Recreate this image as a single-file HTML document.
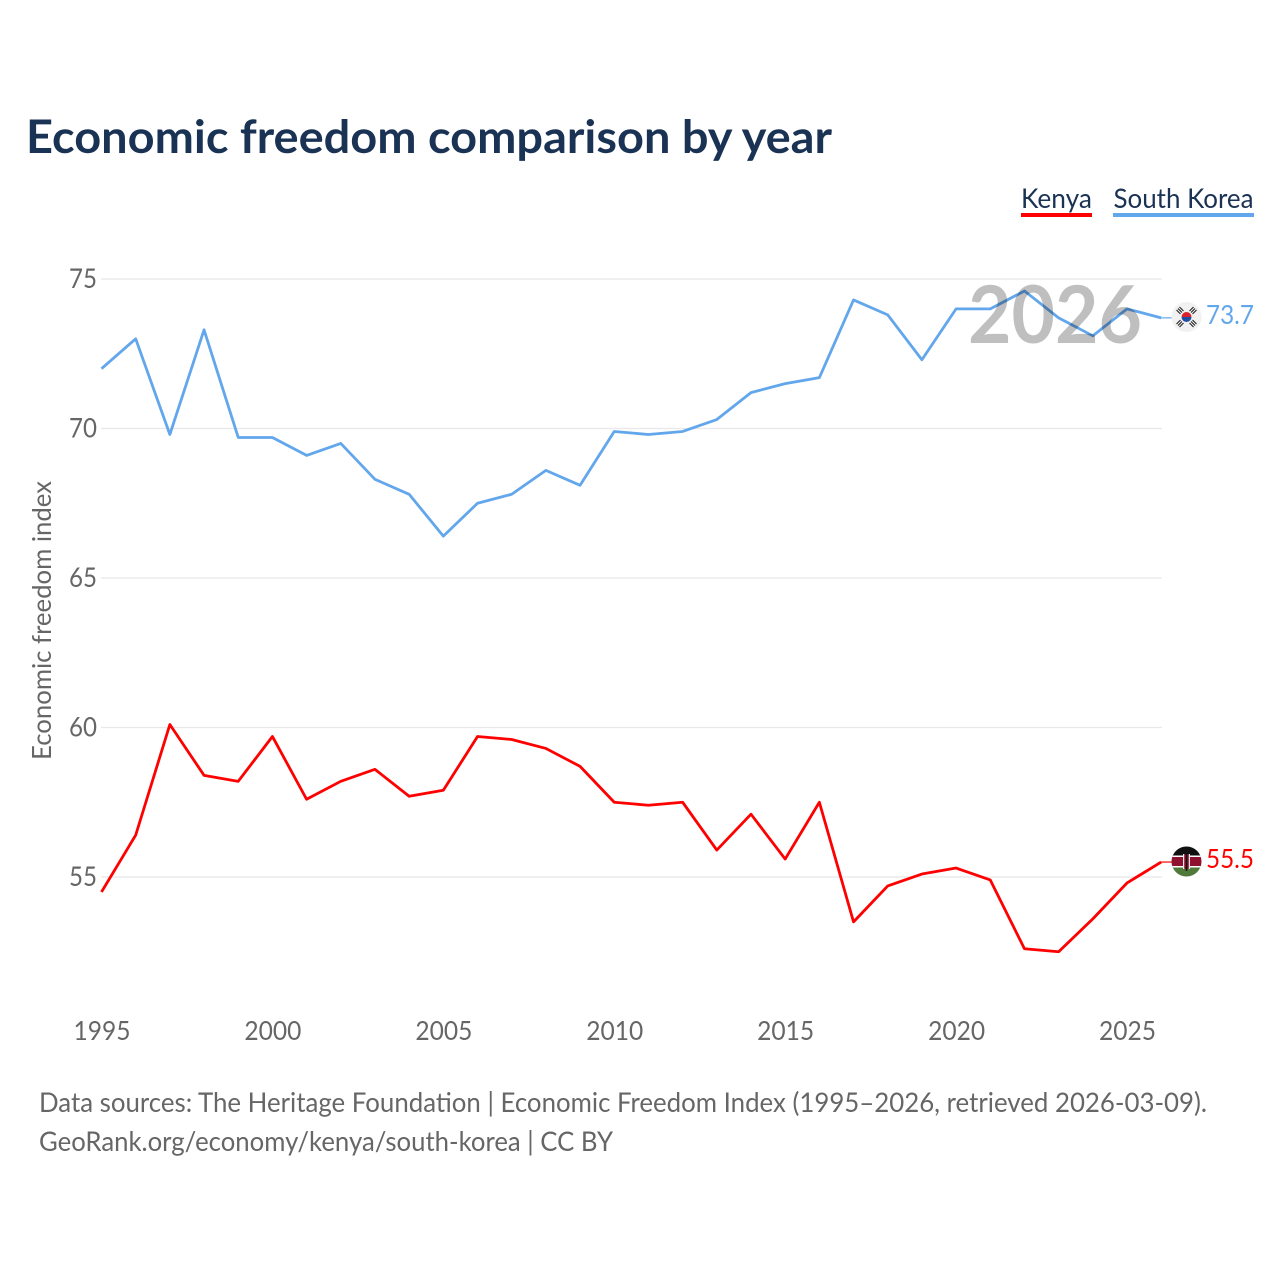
<!DOCTYPE html>
<html lang="en">
<head>
<meta charset="utf-8">
<title>Economic freedom comparison by year</title>
<style>
html,body{margin:0;padding:0;background:#fff;width:1280px;height:1280px;overflow:hidden}
svg{display:block}
text{font-family:"Lato","Carlito","Liberation Sans",sans-serif}
</style>
</head>
<body>
<svg id="chart" width="1280" height="1280" viewBox="0 0 1280 1280" xmlns="http://www.w3.org/2000/svg">
  <text x="26" y="153" font-size="46" font-weight="700" fill="#1a3354" textLength="806" lengthAdjust="spacingAndGlyphs">Economic freedom comparison by year</text>

  <g>
    <text x="1021" y="208" font-size="27" fill="#1a3354" textLength="71" lengthAdjust="spacingAndGlyphs">Kenya</text>
    <rect x="1021" y="213" width="71" height="4" fill="#ff0000"/>
  </g>
  <g>
    <text x="1113.500" y="208" font-size="27" fill="#1a3354" textLength="140" lengthAdjust="spacingAndGlyphs">South Korea</text>
    <rect x="1113" y="213" width="141" height="4" fill="#62a6ec"/>
  </g>

  <g id="grid"></g>
  <g id="yticks"></g>
  <g id="xticks"></g>

  <text transform="translate(51,760) rotate(-90)" font-size="26" fill="#666666" textLength="279" lengthAdjust="spacingAndGlyphs">Economic freedom index</text>

  <g id="series"></g>

  <text x="968" y="343" font-size="80" font-weight="700" fill="#000000" fill-opacity="0.25" textLength="174" lengthAdjust="spacingAndGlyphs">2026</text>

  <g>
    <circle cx="1186.500" cy="317" r="15" fill="#f1f1f1"/>
    <path d="M1181.500 317a5 5 0 0 1 10 0z" fill="#d8202f"/>
    <path d="M1181.500 317a5 5 0 0 0 10 0z" fill="#1f4fa3"/>
    <g stroke="#222222" stroke-width="1.100" fill="none">
      <path d="M1176.500 310l4 4M1178 308.500l4 4M1179.500 307l4 4"/>
      <path d="M1196.500 310l-4 4M1195 308.500l-4 4M1193.500 307l-4 4"/>
      <path d="M1176.500 324l4-4M1178 325.500l4-4M1179.500 327l4-4"/>
      <path d="M1196.500 324l-4-4M1195 325.500l-4-4M1193.500 327l-4-4"/>
    </g>
  </g>
  <g>
    <clipPath id="kenya-clip"><circle cx="1186.500" cy="861.500" r="15"/></clipPath>
    <g clip-path="url(#kenya-clip)">
      <rect x="1171" y="846" width="31" height="10" fill="#111111"/>
      <rect x="1171" y="856" width="31" height="11" fill="#8e1230"/>
      <rect x="1171" y="867" width="31" height="10" fill="#4f7a3a"/>
      <rect x="1171" y="855.500" width="31" height="1.500" fill="#ffffff"/>
      <rect x="1171" y="866" width="31" height="1.500" fill="#ffffff"/>
      <rect x="1183" y="854" width="7" height="15" rx="3" fill="#8e1230"/>
      <rect x="1183" y="854" width="1.200" height="15" fill="#e8e8e8"/>
      <rect x="1188.800" y="854" width="1.200" height="15" fill="#e8e8e8"/>
      <rect x="1185.700" y="852" width="1.600" height="19" fill="#111111"/>
    </g>
  </g>

  <text x="1206" y="324" font-size="26" fill="#62a6ec" textLength="48" lengthAdjust="spacingAndGlyphs">73.7</text>
  <text x="1206" y="868" font-size="26" fill="#ff0000" textLength="48" lengthAdjust="spacingAndGlyphs">55.5</text>

  <text x="39" y="1112" font-size="27" fill="#666666" textLength="1168" lengthAdjust="spacingAndGlyphs">Data sources: The Heritage Foundation | Economic Freedom Index (1995–2026, retrieved 2026-03-09).</text>
  <text x="39" y="1151" font-size="27" fill="#666666" textLength="574" lengthAdjust="spacingAndGlyphs">GeoRank.org/economy/kenya/south-korea | CC BY</text>
</svg>
<script>
const years = [1995,1996,1997,1998,1999,2000,2001,2002,2003,2004,2005,2006,2007,2008,2009,2010,2011,2012,2013,2014,2015,2016,2017,2018,2019,2020,2021,2022,2023,2024,2025,2026];
const southKorea = [72.0,73.0,69.8,73.3,69.7,69.7,69.1,69.5,68.3,67.8,66.4,67.5,67.8,68.6,68.1,69.9,69.8,69.9,70.3,71.2,71.5,71.7,74.3,73.8,72.3,74.0,74.0,74.6,73.7,73.1,74.0,73.7];
const kenya = [54.5,56.4,60.1,58.4,58.2,59.7,57.6,58.2,58.6,57.7,57.9,59.7,59.6,59.3,58.7,57.5,57.4,57.5,55.9,57.1,55.6,57.5,53.5,54.7,55.1,55.3,54.9,52.6,52.5,53.6,54.8,55.5];
const yTickValues = [55,60,65,70,75];
const xTickValues = [1995,2000,2005,2010,2015,2020,2025];

const NS = 'http://www.w3.org/2000/svg';
function xScale(year){ return 101.5 + (year - 1995) * (1127 - 101.5) / 30; }
function yScale(v){ return 877 - (v - 55) * (877 - 279) / 20; }

const grid = document.getElementById('grid');
const yticks = document.getElementById('yticks');
const xticks = document.getElementById('xticks');
const series = document.getElementById('series');

yTickValues.forEach(function(v){
  const line = document.createElementNS(NS,'line');
  
  
  line.setAttribute('x1', 101);
  line.setAttribute('x2', 1162);
  line.setAttribute('y1', yScale(v));
  line.setAttribute('y2', yScale(v));
  line.setAttribute('stroke', '#e8e8e8');
  line.setAttribute('stroke-width', 1.2);
  grid.appendChild(line);

  const t = document.createElementNS(NS,'text');
  
  
  t.setAttribute('x', 69);
  t.setAttribute('y', yScale(v) + 9);
  t.setAttribute('font-size', 27);
  t.setAttribute('fill', '#666666');
  t.setAttribute('textLength', 28);
  t.setAttribute('lengthAdjust', 'spacingAndGlyphs');
  t.textContent = v;
  yticks.appendChild(t);
});

xTickValues.forEach(function(y){
  const t = document.createElementNS(NS,'text');
  
  
  t.setAttribute('x', xScale(y) - 28);
  t.setAttribute('y', 1040);
  t.setAttribute('font-size', 26);
  t.setAttribute('fill', '#666666');
  t.setAttribute('textLength', 57);
  t.setAttribute('lengthAdjust', 'spacingAndGlyphs');
  t.textContent = y;
  xticks.appendChild(t);
});

function drawLine(values, color, name){
  const d = values.map(function(v,i){
    return (i ? 'L' : 'M') + xScale(years[i]).toFixed(2) + ' ' + yScale(v).toFixed(2);
  }).join('');
  const p = document.createElementNS(NS,'path');
  
  
  p.setAttribute('d', d);
  p.setAttribute('fill', 'none');
  p.setAttribute('stroke', color);
  p.setAttribute('stroke-width', 2.8);
  p.setAttribute('stroke-linejoin', 'round');
  series.appendChild(p);

  const last = values[values.length - 1];
  const c = document.createElementNS(NS,'line');
  
  
  c.setAttribute('x1', xScale(years[years.length - 1]));
  c.setAttribute('x2', 1172);
  c.setAttribute('y1', yScale(last));
  c.setAttribute('y2', yScale(last));
  c.setAttribute('stroke', color);
  c.setAttribute('stroke-width', 1.2);
  series.appendChild(c);
}
drawLine(southKorea, '#62a6ec', 'line-south-korea');
drawLine(kenya, '#ff0000', 'line-kenya');
</script>
</body>
</html>
